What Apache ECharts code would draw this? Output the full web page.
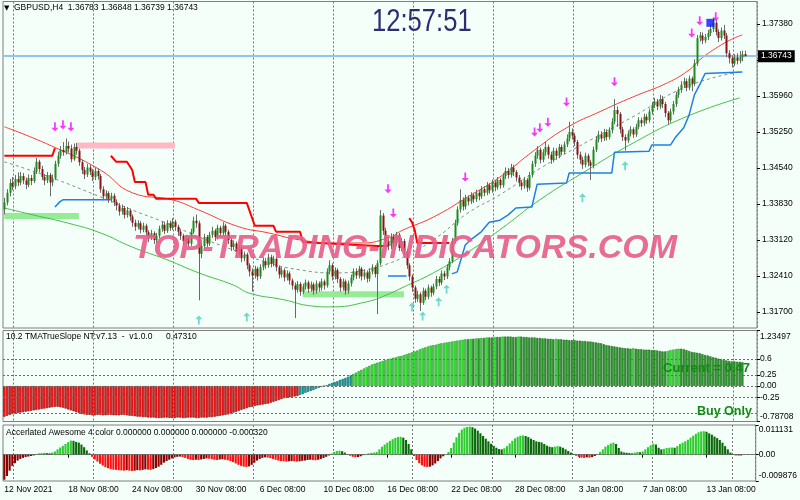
<!DOCTYPE html>
<html><head><meta charset="utf-8">
<script src="https://cdn.jsdelivr.net/npm/echarts@6/dist/echarts.min.js"></script>
<style>html,body{margin:0;padding:0;background:#F5FFFA}#c{width:800px;height:500px}</style>
</head><body><div id="c"></div>
<script>
// ---------------- DATA ----------------
const symbolName = 'GBPUSD,H4';
const clockText = '12:57:51';
const watermarkText = 'TOP-TRADING-INDICATORS.COM';
const slopeTitle = '10.2 TMATrueSlope NT:v7.13  -  v1.0.0';
const slopeTitleValue = '0.47310';
const aoTitle = 'Accerlated Awesome 4 color 0.000000 0.000000 0.000000 -0.000320';
const slopeCurrentText = 'Current = 0.47';
const slopeModeText = 'Buy Only';

const priceTicks = [1.31700, 1.32410, 1.33120, 1.33830, 1.34540, 1.35250, 1.35960, 1.36670, 1.37380];
const bidPrice = 1.36743;
const dateTickIdx = [0, 24, 48, 72, 96, 120, 144, 168, 192, 216, 240, 264];
const dateTickText = ['12 Nov 2021','18 Nov 08:00','24 Nov 08:00','30 Nov 08:00','6 Dec 08:00','10 Dec 08:00','16 Dec 08:00','22 Dec 08:00','28 Dec 08:00','3 Jan 08:00','7 Jan 08:00','13 Jan 08:00'];

// [open, close, low, high]
const candles = [
[1.3372,1.3386,1.3362,1.3395],[1.3386,1.3405,1.3380,1.3412],[1.3405,1.3424,1.3398,1.3432],[1.3424,1.3418,1.3410,1.3436],[1.3418,1.3432,1.3412,1.3440],[1.3432,1.3425,1.3418,1.3445],[1.3425,1.3438,1.3420,1.3446],[1.3438,1.3429,1.3422,1.3444],[1.3429,1.3421,1.3412,1.3435],[1.3421,1.3434,1.3416,1.3441],
[1.3434,1.3428,1.3420,1.3440],[1.3428,1.3447,1.3424,1.3455],[1.3447,1.3466,1.3442,1.3474],[1.3466,1.3452,1.3445,1.3470],[1.3452,1.3436,1.3430,1.3458],[1.3436,1.3429,1.3420,1.3442],[1.3429,1.3440,1.3424,1.3446],[1.3440,1.3425,1.3398,1.3444],[1.3425,1.3433,1.3418,1.3441],[1.3433,1.3462,1.3430,1.3468],
[1.3462,1.3478,1.3456,1.3486],[1.3478,1.3490,1.3472,1.3497],[1.3490,1.3485,1.3478,1.3505],[1.3485,1.3497,1.3480,1.3512],[1.3497,1.3492,1.3484,1.3506],[1.3492,1.3471,1.3465,1.3500],[1.3471,1.3495,1.3468,1.3502],[1.3495,1.3488,1.3480,1.3503],[1.3488,1.3465,1.3458,1.3492],[1.3465,1.3450,1.3442,1.3470],
[1.3450,1.3441,1.3432,1.3456],[1.3441,1.3455,1.3436,1.3462],[1.3455,1.3447,1.3440,1.3460],[1.3447,1.3436,1.3428,1.3452],[1.3436,1.3448,1.3430,1.3455],[1.3448,1.3438,1.3431,1.3453],[1.3438,1.3412,1.3405,1.3442],[1.3412,1.3398,1.3390,1.3418],[1.3398,1.3404,1.3392,1.3410],[1.3404,1.3392,1.3385,1.3408],
[1.3392,1.3399,1.3386,1.3405],[1.3399,1.3387,1.3379,1.3404],[1.3387,1.3380,1.3370,1.3392],[1.3380,1.3368,1.3360,1.3385],[1.3368,1.3375,1.3362,1.3382],[1.3375,1.3361,1.3354,1.3379],[1.3361,1.3370,1.3356,1.3377],[1.3370,1.3358,1.3350,1.3374],[1.3358,1.3346,1.3338,1.3362],[1.3346,1.3338,1.3330,1.3352],
[1.3338,1.3345,1.3333,1.3351],[1.3345,1.3332,1.3325,1.3349],[1.3332,1.3340,1.3327,1.3346],[1.3340,1.3327,1.3320,1.3344],[1.3327,1.3318,1.3308,1.3331],[1.3318,1.3325,1.3312,1.3332],[1.3325,1.3312,1.3304,1.3329],[1.3312,1.3320,1.3306,1.3326],[1.3320,1.3334,1.3315,1.3340],[1.3334,1.3342,1.3328,1.3349],
[1.3342,1.3330,1.3324,1.3348],[1.3330,1.3345,1.3326,1.3351],[1.3345,1.3336,1.3330,1.3350],[1.3336,1.3348,1.3332,1.3355],[1.3348,1.3338,1.3330,1.3352],[1.3338,1.3328,1.3320,1.3342],[1.3328,1.3320,1.3312,1.3333],[1.3320,1.3310,1.3302,1.3324],[1.3310,1.3316,1.3304,1.3322],[1.3316,1.3305,1.3298,1.3320],
[1.3305,1.3328,1.3300,1.3334],[1.3328,1.3350,1.3324,1.3358],[1.3350,1.3345,1.3336,1.3362],[1.3345,1.3285,1.3193,1.3350],[1.3285,1.3300,1.3276,1.3308],[1.3300,1.3318,1.3294,1.3324],[1.3318,1.3305,1.3298,1.3322],[1.3305,1.3322,1.3300,1.3328],[1.3322,1.3330,1.3316,1.3338],[1.3330,1.3318,1.3310,1.3334],
[1.3318,1.3336,1.3313,1.3342],[1.3336,1.3325,1.3318,1.3340],[1.3325,1.3340,1.3320,1.3347],[1.3340,1.3328,1.3321,1.3344],[1.3328,1.3312,1.3304,1.3332],[1.3312,1.3298,1.3290,1.3316],[1.3298,1.3305,1.3292,1.3311],[1.3305,1.3288,1.3280,1.3309],[1.3288,1.3295,1.3282,1.3301],[1.3295,1.3276,1.3268,1.3299],
[1.3276,1.3283,1.3270,1.3289],[1.3283,1.3262,1.3254,1.3287],[1.3262,1.3250,1.3240,1.3266],[1.3250,1.3242,1.3210,1.3256],[1.3242,1.3255,1.3236,1.3261],[1.3255,1.3240,1.3232,1.3259],[1.3240,1.3258,1.3235,1.3264],[1.3258,1.3270,1.3252,1.3277],[1.3270,1.3262,1.3255,1.3276],[1.3262,1.3278,1.3257,1.3285],
[1.3278,1.3265,1.3258,1.3283],[1.3265,1.3275,1.3260,1.3281],[1.3275,1.3258,1.3250,1.3279],[1.3258,1.3244,1.3236,1.3262],[1.3244,1.3252,1.3238,1.3258],[1.3252,1.3238,1.3230,1.3256],[1.3238,1.3246,1.3232,1.3252],[1.3246,1.3232,1.3224,1.3250],[1.3232,1.3222,1.3214,1.3236],[1.3222,1.3214,1.3158,1.3228],
[1.3214,1.3225,1.3208,1.3231],[1.3225,1.3210,1.3202,1.3229],[1.3210,1.3220,1.3205,1.3226],[1.3220,1.3228,1.3214,1.3234],[1.3228,1.3216,1.3208,1.3232],[1.3216,1.3224,1.3210,1.3230],[1.3224,1.3212,1.3204,1.3228],[1.3212,1.3226,1.3206,1.3232],[1.3226,1.3218,1.3210,1.3230],[1.3218,1.3230,1.3212,1.3236],
[1.3230,1.3222,1.3214,1.3234],[1.3222,1.3250,1.3218,1.3256],[1.3250,1.3262,1.3244,1.3272],[1.3262,1.3240,1.3232,1.3266],[1.3240,1.3252,1.3234,1.3258],[1.3252,1.3235,1.3227,1.3256],[1.3235,1.3218,1.3210,1.3239],[1.3218,1.3230,1.3212,1.3236],[1.3230,1.3212,1.3204,1.3234],[1.3212,1.3226,1.3206,1.3232],
[1.3226,1.3238,1.3220,1.3244],[1.3238,1.3250,1.3232,1.3256],[1.3250,1.3242,1.3235,1.3256],[1.3242,1.3255,1.3236,1.3261],[1.3255,1.3240,1.3232,1.3259],[1.3240,1.3248,1.3234,1.3254],[1.3248,1.3236,1.3228,1.3252],[1.3236,1.3250,1.3230,1.3256],[1.3250,1.3258,1.3244,1.3264],[1.3258,1.3245,1.3238,1.3262],
[1.3245,1.3266,1.3166,1.3272],[1.3266,1.3360,1.3262,1.3371],[1.3360,1.3330,1.3322,1.3365],[1.3330,1.3310,1.3302,1.3336],[1.3310,1.3300,1.3292,1.3318],[1.3300,1.3318,1.3294,1.3325],[1.3318,1.3305,1.3298,1.3324],[1.3305,1.3322,1.3300,1.3328],[1.3322,1.3296,1.3290,1.3326],[1.3296,1.3310,1.3290,1.3316],
[1.3310,1.3290,1.3282,1.3314],[1.3290,1.3262,1.3255,1.3294],[1.3262,1.3240,1.3232,1.3266],[1.3240,1.3218,1.3210,1.3244],[1.3218,1.3196,1.3188,1.3222],[1.3196,1.3205,1.3190,1.3212],[1.3205,1.3188,1.3172,1.3209],[1.3188,1.3212,1.3184,1.3218],[1.3212,1.3200,1.3193,1.3216],[1.3200,1.3218,1.3195,1.3224],
[1.3218,1.3208,1.3200,1.3222],[1.3208,1.3220,1.3203,1.3226],[1.3220,1.3235,1.3215,1.3241],[1.3235,1.3228,1.3221,1.3240],[1.3228,1.3246,1.3223,1.3252],[1.3246,1.3240,1.3233,1.3251],[1.3240,1.3258,1.3235,1.3264],[1.3258,1.3270,1.3252,1.3276],[1.3270,1.3310,1.3266,1.3316],[1.3310,1.3345,1.3305,1.3352],
[1.3345,1.3372,1.3340,1.3378],[1.3372,1.3390,1.3366,1.3412],[1.3390,1.3378,1.3370,1.3396],[1.3378,1.3395,1.3372,1.3401],[1.3395,1.3388,1.3380,1.3400],[1.3388,1.3400,1.3383,1.3406],[1.3400,1.3392,1.3385,1.3405],[1.3392,1.3405,1.3387,1.3411],[1.3405,1.3398,1.3390,1.3410],[1.3398,1.3412,1.3393,1.3418],
[1.3412,1.3405,1.3398,1.3418],[1.3405,1.3420,1.3400,1.3426],[1.3420,1.3410,1.3403,1.3424],[1.3410,1.3425,1.3405,1.3431],[1.3425,1.3416,1.3408,1.3430],[1.3416,1.3430,1.3411,1.3436],[1.3430,1.3420,1.3413,1.3434],[1.3420,1.3438,1.3415,1.3444],[1.3438,1.3448,1.3432,1.3455],[1.3448,1.3440,1.3433,1.3454],
[1.3440,1.3455,1.3435,1.3462],[1.3455,1.3446,1.3438,1.3460],[1.3446,1.3435,1.3427,1.3450],[1.3435,1.3425,1.3417,1.3440],[1.3425,1.3418,1.3410,1.3430],[1.3418,1.3430,1.3413,1.3436],[1.3430,1.3415,1.3407,1.3434],[1.3415,1.3440,1.3410,1.3446],[1.3440,1.3462,1.3435,1.3468],[1.3462,1.3478,1.3456,1.3485],
[1.3478,1.3490,1.3472,1.3497],[1.3490,1.3470,1.3463,1.3494],[1.3470,1.3485,1.3465,1.3491],[1.3485,1.3495,1.3478,1.3505],[1.3495,1.3480,1.3472,1.3500],[1.3480,1.3470,1.3462,1.3486],[1.3470,1.3488,1.3465,1.3494],[1.3488,1.3478,1.3470,1.3493],[1.3478,1.3495,1.3473,1.3501],[1.3495,1.3486,1.3479,1.3500],
[1.3486,1.3500,1.3481,1.3506],[1.3500,1.3512,1.3495,1.3520],[1.3512,1.3525,1.3506,1.3545],[1.3525,1.3518,1.3510,1.3532],[1.3518,1.3505,1.3497,1.3523],[1.3505,1.3480,1.3472,1.3509],[1.3480,1.3470,1.3462,1.3486],[1.3470,1.3460,1.3452,1.3476],[1.3460,1.3478,1.3455,1.3484],[1.3478,1.3465,1.3457,1.3482],
[1.3465,1.3458,1.3430,1.3470],[1.3458,1.3490,1.3453,1.3496],[1.3490,1.3510,1.3485,1.3516],[1.3510,1.3520,1.3504,1.3527],[1.3520,1.3512,1.3505,1.3526],[1.3512,1.3525,1.3507,1.3531],[1.3525,1.3515,1.3508,1.3530],[1.3515,1.3528,1.3510,1.3534],[1.3528,1.3545,1.3522,1.3552],[1.3545,1.3568,1.3540,1.3590],
[1.3568,1.3560,1.3535,1.3575],[1.3560,1.3530,1.3522,1.3564],[1.3530,1.3515,1.3507,1.3535],[1.3515,1.3508,1.3488,1.3520],[1.3508,1.3522,1.3503,1.3528],[1.3522,1.3530,1.3516,1.3536],[1.3530,1.3520,1.3513,1.3534],[1.3520,1.3535,1.3515,1.3541],[1.3535,1.3548,1.3530,1.3554],[1.3548,1.3542,1.3535,1.3553],
[1.3542,1.3555,1.3537,1.3561],[1.3555,1.3548,1.3541,1.3560],[1.3548,1.3565,1.3543,1.3571],[1.3565,1.3578,1.3559,1.3584],[1.3578,1.3585,1.3572,1.3592],[1.3585,1.3575,1.3568,1.3590],[1.3575,1.3590,1.3570,1.3598],[1.3590,1.3580,1.3572,1.3596],[1.3580,1.3562,1.3554,1.3584],[1.3562,1.3548,1.3540,1.3566],
[1.3548,1.3565,1.3543,1.3571],[1.3565,1.3580,1.3559,1.3586],[1.3580,1.3598,1.3574,1.3604],[1.3598,1.3608,1.3592,1.3614],[1.3608,1.3618,1.3602,1.3625],[1.3618,1.3625,1.3612,1.3632],[1.3625,1.3612,1.3605,1.3630],[1.3612,1.3630,1.3607,1.3636],[1.3630,1.3620,1.3605,1.3634],[1.3620,1.3660,1.3615,1.3668],
[1.3660,1.3710,1.3655,1.3716],[1.3710,1.3715,1.3703,1.3722],[1.3715,1.3705,1.3698,1.3721],[1.3705,1.3712,1.3700,1.3718],[1.3712,1.3720,1.3706,1.3726],[1.3720,1.3728,1.3714,1.3736],[1.3728,1.3740,1.3722,1.3750],[1.3740,1.3722,1.3715,1.3745],[1.3722,1.3710,1.3702,1.3727],[1.3710,1.3725,1.3705,1.3731],
[1.3725,1.3715,1.3708,1.3736],[1.3715,1.3680,1.3672,1.3720],[1.3680,1.3670,1.3660,1.3686],[1.3670,1.3660,1.3652,1.3676],[1.3660,1.3672,1.3655,1.3678],[1.3672,1.3665,1.3658,1.3680],[1.3665,1.3672,1.3660,1.3684],[1.3672,1.3678,1.3664,1.3685],[1.36783,1.36743,1.36739,1.36848]
];

// TMA bands: [bar index, price]
const upperBand = [[0,1.3535],[17,1.3499],[36,1.3450],[48,1.3405],[63,1.3391],[73,1.3371],[88,1.3338],[99,1.3326],[111,1.3312],[124,1.3306],[134,1.3306],[145,1.3318],[149,1.3330],[161,1.3357],[174,1.3397],[186,1.3436],[199,1.3489],[211,1.3533],[224,1.3566],[236,1.3594],[249,1.3622],[257,1.3647],[261,1.3667],[268,1.3693],[274,1.3710],[277,1.3716]];
const lowerBand = [[0,1.3375],[11,1.3361],[24,1.3345],[36,1.3326],[48,1.3298],[61,1.3273],[73,1.3247],[86,1.3223],[92,1.3207],[105,1.3194],[115,1.3182],[122,1.3180],[136,1.3190],[145,1.3207],[149,1.3217],[161,1.3247],[174,1.3288],[186,1.3332],[201,1.3391],[217,1.3444],[236,1.3503],[256,1.3555],[276,1.3592]];
const midBand = [[0,1.3466],[17,1.3436],[36,1.3397],[48,1.3371],[61,1.3345],[73,1.3318],[86,1.3292],[99,1.3267],[111,1.3253],[124,1.3247],[136,1.3253],[145,1.3267],[149,1.3276],[161,1.3312],[174,1.3365],[186,1.3401],[202,1.3456],[220,1.3509],[236,1.3555],[256,1.3614],[276,1.3643]];

// stop lines (segments of [bar index, price])
const blueStop = [
  [[19,1.3377],[21,1.3388],[22,1.3391],[40,1.3391]],
  [[144,1.3241],[151,1.3241]],
  [[168,1.3245],[170,1.3249],[173,1.3302],[175,1.3312],[179,1.3328],[182,1.3347],[186,1.3351],[189,1.3361],[192,1.3375],[198,1.3377],[200,1.3422],[211,1.3424],[212,1.3444],[228,1.3444],[229,1.3485],[242,1.3487],[243,1.3499],[250,1.3499],[252,1.3515],[255,1.3533],[257,1.3558],[259,1.3598],[261,1.3618],[263,1.3640],[277,1.3643]]
];
const redStop = [
  [[0,1.3478],[18,1.3478],[19,1.3493]],
  [[40,1.3478],[42,1.3466],[46,1.3466],[48,1.3450],[49,1.3426],[53,1.3426],[54,1.3401],[56,1.3401],[57,1.3393],[72,1.3393],[73,1.3385],[91,1.3385],[94,1.3340],[101,1.3340],[102,1.3328],[111,1.3328],[112,1.3308],[118,1.3306],[140,1.3300],[144,1.3300]],
  [[152,1.3355],[153,1.3347],[154,1.3332],[155,1.3306],[167,1.3306]]
];
// supply / demand zones: [startBar, endBar, price]
const pinkZones = [[27, 64, 1.3498]];
const greenZones = [[0, 28, 1.3359], [112, 150, 1.3205]];
// signal arrows [bar index, price]
const downArrows = [[19,1.3535],[22,1.3539],[25,1.3535],[144,1.3413],[146,1.3365],[173,1.3436],[199,1.3525],[201,1.3533],[204,1.3544],[211,1.3584],[229,1.3624],[258,1.3720],[261,1.3744],[267,1.3752]];
const upArrows = [[73,1.3154],[91,1.3160],[153,1.3180],[157,1.3162],[163,1.3190],[166,1.3215],[217,1.3395],[233,1.3458]];
const blueMarks = [[265,1.3740]];

// TMA True Slope histogram
const slope = [
-0.68,-0.66,-0.64,-0.62,-0.61,-0.60,-0.59,-0.58,-0.57,-0.56,
-0.55,-0.54,-0.53,-0.52,-0.51,-0.50,-0.49,-0.48,-0.47,-0.46,
-0.46,-0.47,-0.48,-0.50,-0.52,-0.54,-0.56,-0.58,-0.60,-0.62,
-0.63,-0.64,-0.64,-0.65,-0.65,-0.64,-0.64,-0.65,-0.65,-0.64,
-0.64,-0.65,-0.65,-0.65,-0.64,-0.64,-0.65,-0.66,-0.66,-0.67,
-0.68,-0.68,-0.69,-0.69,-0.70,-0.70,-0.70,-0.71,-0.71,-0.71,
-0.70,-0.70,-0.71,-0.71,-0.71,-0.70,-0.70,-0.71,-0.71,-0.70,
-0.70,-0.70,-0.71,-0.71,-0.70,-0.70,-0.70,-0.69,-0.69,-0.68,
-0.67,-0.66,-0.65,-0.64,-0.63,-0.61,-0.59,-0.57,-0.55,-0.53,
-0.51,-0.49,-0.47,-0.46,-0.44,-0.43,-0.42,-0.41,-0.40,-0.39,
-0.37,-0.35,-0.33,-0.31,-0.29,-0.27,-0.26,-0.25,-0.24,-0.23,
-0.22,-0.20,-0.18,-0.15,-0.13,-0.11,-0.09,-0.06,-0.04,-0.02,
0.00,0.02,0.05,0.07,0.09,0.11,0.14,0.16,0.18,0.21,
0.24,0.27,0.30,0.33,0.36,0.39,0.42,0.45,0.48,0.50,
0.52,0.54,0.56,0.58,0.60,0.61,0.63,0.64,0.66,0.67,
0.69,0.71,0.73,0.75,0.77,0.79,0.82,0.84,0.86,0.88,
0.90,0.91,0.92,0.94,0.95,0.96,0.97,0.98,0.99,1.00,
1.01,1.02,1.03,1.04,1.04,1.05,1.05,1.06,1.06,1.07,
1.07,1.08,1.08,1.08,1.09,1.09,1.09,1.10,1.10,1.10,
1.10,1.09,1.09,1.10,1.10,1.09,1.09,1.08,1.08,1.08,
1.07,1.07,1.06,1.06,1.05,1.05,1.04,1.05,1.04,1.04,
1.03,1.03,1.02,1.02,1.02,1.01,1.01,1.00,1.00,0.99,
0.99,0.98,0.97,0.96,0.95,0.93,0.91,0.90,0.89,0.88,
0.87,0.86,0.85,0.84,0.84,0.83,0.84,0.83,0.82,0.82,
0.81,0.81,0.81,0.80,0.80,0.79,0.78,0.77,0.77,0.78,
0.80,0.81,0.82,0.83,0.83,0.82,0.80,0.78,0.76,0.75,
0.74,0.73,0.71,0.69,0.68,0.66,0.64,0.63,0.61,0.60,
0.58,0.57,0.56,0.55,0.55,0.54,0.54,0.53
];
const slopeMax = 1.23497, slopeMin = -0.78708;
const slopeLevels = [0.6, 0.25, 0, -0.25, -0.6];
const slopeLabelVals = [1.23497, 0.6, 0.25, 0, -0.25, -0.78708];
const slopeLabelText = ['1.23497','0.6','0.25','0.00','-0.25','-0.78708'];

// Accelerated Awesome oscillator
const ao = [
-0.0094,-0.0080,-0.0060,-0.0042,-0.0032,-0.0022,-0.0016,-0.0012,-0.0009,-0.0007,
-0.0005,-0.0003,0.0002,0.0005,0.0006,0.0007,0.0006,0.0005,0.0008,0.0012,
0.0020,0.0027,0.0033,0.0040,0.0047,0.0053,0.0052,0.0048,0.0045,0.0038,
0.0028,0.0016,0.0005,-0.0008,-0.0018,-0.0026,-0.0034,-0.0041,-0.0047,-0.0051,
-0.0054,-0.0056,-0.0057,-0.0058,-0.0059,-0.0060,-0.0058,-0.0060,-0.0061,-0.0060,
-0.0058,-0.0059,-0.0057,-0.0055,-0.0056,-0.0057,-0.0054,-0.0050,-0.0045,-0.0038,
-0.0030,-0.0024,-0.0019,-0.0014,-0.0010,-0.0008,-0.0007,-0.0009,-0.0012,-0.0016,
-0.0019,-0.0020,-0.0019,-0.0020,-0.0018,-0.0016,-0.0014,-0.0015,-0.0017,-0.0019,
-0.0020,-0.0018,-0.0017,-0.0019,-0.0021,-0.0024,-0.0028,-0.0033,-0.0038,-0.0042,
-0.0045,-0.0046,-0.0044,-0.0038,-0.0030,-0.0022,-0.0016,-0.0012,-0.0010,-0.0011,
-0.0013,-0.0016,-0.0019,-0.0022,-0.0024,-0.0025,-0.0026,-0.0025,-0.0024,-0.0025,
-0.0026,-0.0025,-0.0023,-0.0022,-0.0020,-0.0019,-0.0020,-0.0021,-0.0019,-0.0016,
-0.0012,-0.0008,-0.0003,0.0004,0.0010,0.0014,0.0015,0.0013,0.0008,0.0002,
-0.0004,-0.0008,-0.0010,-0.0009,-0.0006,-0.0002,0.0003,0.0005,0.0007,0.0008,
0.0010,0.0020,0.0030,0.0038,0.0045,0.0052,0.0058,0.0063,0.0066,0.0067,
0.0064,0.0055,0.0040,0.0020,-0.0005,-0.0020,-0.0032,-0.0040,-0.0045,-0.0046,
-0.0045,-0.0040,-0.0033,-0.0024,-0.0014,-0.0006,0.0002,0.0010,0.0025,0.0045,
0.0065,0.0082,0.0094,0.0101,0.0104,0.0105,0.0103,0.0098,0.0090,0.0080,
0.0070,0.0060,0.0050,0.0041,0.0033,0.0026,0.0021,0.0020,0.0024,0.0032,
0.0042,0.0052,0.0061,0.0067,0.0071,0.0072,0.0070,0.0066,0.0060,0.0055,
0.0050,0.0048,0.0046,0.0040,0.0034,0.0030,0.0028,0.0030,0.0032,0.0030,
0.0026,0.0020,0.0014,0.0008,0.0002,-0.0004,-0.0008,-0.0011,-0.0012,-0.0010,
-0.0011,-0.0009,-0.0005,0.0002,0.0010,0.0020,0.0030,0.0036,0.0042,0.0045,
0.0040,0.0025,0.0012,0.0008,0.0007,0.0006,0.0007,0.0008,0.0010,0.0009,
0.0012,0.0020,0.0028,0.0035,0.0041,0.0038,0.0026,0.0020,0.0022,0.0025,
0.0026,0.0027,0.0026,0.0032,0.0040,0.0045,0.0050,0.0056,0.0064,0.0071,
0.0078,0.0084,0.0087,0.0088,0.0086,0.0080,0.0075,0.0068,0.0062,0.0055,
0.0045,0.0032,0.0020,0.0008,0.0002,-0.0003,-0.0003,-0.0003
];
const aoMax = 0.011131, aoMin = -0.009876;
const aoLabelVals = [0.011131, 0, -0.009876];
const aoLabelText = ['0.011131', '0.00', '-0.009876'];

// ---------------- CHART ----------------
const N = 283;
const cats = Array.from({length: N}, (_, i) => String(i));
const FONT = 'Liberation Sans';
const BG = '#F5FFFA';
const isDateTick = i => dateTickIdx.indexOf(i) >= 0;
const isGridLine = i => i % 30 === 4;
const lastC = candles[candles.length - 1];
const headerText = symbolName + '  ' + [lastC[0], lastC[3], lastC[2], lastC[1]].map(v => v.toFixed(5)).join(' ');

function xAxisFor(g, showLabels) {
  return {
    type: 'category', gridIndex: g, data: cats, boundaryGap: true,
    axisLine: {show: showLabels, lineStyle: {color: '#808080'}},
    axisTick: {show: showLabels, interval: (i) => isDateTick(i), alignWithLabel: true, length: 3, lineStyle: {color: '#000'}},
    axisLabel: {show: showLabels, interval: (i) => isDateTick(i), align: 'left', color: '#000', fontSize: 8.5, fontFamily: FONT, margin: 4,
      formatter: (v) => { const k = dateTickIdx.indexOf(Number(v)); return k >= 0 ? dateTickText[k] : ''; }},
    splitLine: {show: true, interval: (i) => isGridLine(i), lineStyle: {color: '#777', type: [2, 2], width: 1}}
  };
}
function findIdx(arr, v) { for (let k = 0; k < arr.length; k++) if (Math.abs(arr[k] - v) < 1e-9) return k; return -1; }
function edgeLabels(vals, texts, top, bot) {
  return (v) => {
    const k = findIdx(vals, v); if (k < 0) return '';
    if (Math.abs(v - top) < 1e-9) return '{t|' + texts[k] + '}';
    if (Math.abs(v - bot) < 1e-9) return '{b|' + texts[k] + '}';
    return texts[k];
  };
}
const labStyle = {color: '#000', fontSize: 8.5, fontFamily: FONT};

const candleData = candles.map((d, i) => [i, d[0], d[1], d[2], d[3]]);
const slopeData = slope.map((v, i) => {
  let c, b;
  if (v <= -0.21) { c = '#ff1c1c'; b = '#8a0000'; }
  else if (v < 0.26) { c = '#1f9e9e'; b = '#0d6a6a'; }
  else if (i > 0 && v > slope[i - 1]) { c = '#3cf03c'; b = '#1f8f1f'; }
  else { c = '#2f9e2f'; b = '#1a6a1a'; }
  return {value: v, itemStyle: {color: c, borderColor: b, borderWidth: 0.6}};
});
const aoData = ao.map((v, i) => {
  const up = i === 0 || v >= ao[i - 1];
  let c;
  if (v >= 0) c = up ? '#2ecc2e' : '#0a6a0a';
  else c = up ? '#8b0000' : '#ff1010';
  return {value: v, itemStyle: {color: c}};
});

const series = [];
// candles
series.push({
  type: 'custom', xAxisIndex: 0, yAxisIndex: 0, z: 5, clip: true,
  data: candleData, encode: {x: 0, y: [1, 2, 3, 4]},
  renderItem: function (params, api) {
    const i = api.value(0);
    const pO = api.coord([i, api.value(1)]);
    const yC = api.coord([i, api.value(2)])[1];
    const yL = api.coord([i, api.value(3)])[1];
    const yH = api.coord([i, api.value(4)])[1];
    const xr = Math.round(pO[0]);
    const up = api.value(2) >= api.value(1);
    const top = Math.min(pO[1], yC), h = Math.max(Math.abs(pO[1] - yC), 1);
    return {type: 'group', children: [
      {type: 'line', shape: {x1: xr + 0.5, y1: yH, x2: xr + 0.5, y2: yL}, style: {stroke: '#6a6a6a', lineWidth: 1}},
      {type: 'rect', shape: {x: xr - 0.5, y: top, width: 2, height: h}, style: {fill: up ? '#1d8c1d' : '#8b1212'}}
    ]};
  }
});
// upper band + bid line
series.push({type: 'line', xAxisIndex: 0, yAxisIndex: 0, data: upperBand, smooth: true, showSymbol: false, z: 3, lineStyle: {color: '#ff3b3b', width: 1},
  markLine: {
    silent: true, symbol: 'none', precision: 5, data: [{yAxis: bidPrice}],
    lineStyle: {color: '#8fc6ee', width: 2, type: 'solid'},
    label: {show: true, position: 'end', distance: 1, formatter: bidPrice.toFixed(5), backgroundColor: '#000', color: '#fff',
      fontSize: 8.5, fontFamily: FONT, padding: [2, 3, 1, 3]}
  }
});
series.push({type: 'line', xAxisIndex: 0, yAxisIndex: 0, data: lowerBand, smooth: true, showSymbol: false, z: 3, lineStyle: {color: '#46c046', width: 1}});
series.push({type: 'line', xAxisIndex: 0, yAxisIndex: 0, data: midBand, smooth: true, showSymbol: false, z: 3, lineStyle: {color: '#8a8a8a', width: 1, type: [3, 3]}});
blueStop.forEach(seg => series.push({type: 'line', xAxisIndex: 0, yAxisIndex: 0, data: seg, showSymbol: false, z: 4, lineStyle: {color: '#1e80e6', width: 1.5}}));
redStop.forEach(seg => series.push({type: 'line', xAxisIndex: 0, yAxisIndex: 0, data: seg, showSymbol: false, z: 4, lineStyle: {color: '#ff0000', width: 2}}));
pinkZones.forEach(z => series.push({type: 'line', xAxisIndex: 0, yAxisIndex: 0, data: [[z[0], z[2]], [z[1], z[2]]], showSymbol: false, z: 2, lineStyle: {color: '#ffb8c4', width: 6, cap: 'butt'}}));
greenZones.forEach(z => series.push({type: 'line', xAxisIndex: 0, yAxisIndex: 0, data: [[z[0], z[2]], [z[1], z[2]]], showSymbol: false, z: 2, lineStyle: {color: '#96ec96', width: 6, cap: 'butt'}}));
series.push({type: 'scatter', xAxisIndex: 0, yAxisIndex: 0, data: downArrows, z: 6, symbol: 'path://M3,0L5,0L5,6L8,6L4,10L0,6L3,6Z', symbolSize: [7, 9], itemStyle: {color: '#ff00ff'}});
series.push({type: 'scatter', xAxisIndex: 0, yAxisIndex: 0, data: upArrows, z: 6, symbol: 'path://M4,0L8,4L5,4L5,10L3,10L3,4L0,4Z', symbolSize: [7, 9], itemStyle: {color: '#4ccfba'}});
series.push({type: 'scatter', xAxisIndex: 0, yAxisIndex: 0, data: blueMarks, z: 6, symbol: 'rect', symbolSize: 8, itemStyle: {color: '#0a14ff'}});
// slope histogram
series.push({
  type: 'bar', xAxisIndex: 1, yAxisIndex: 1, data: slopeData, barCategoryGap: '15%', z: 3,
  markLine: {silent: true, symbol: 'none', precision: 5, data: slopeLevels.map(v => ({yAxis: v})), label: {show: false},
    lineStyle: {color: '#6a6a6a', width: 1, type: [2, 2]}}
});
// AO histogram
series.push({
  type: 'bar', xAxisIndex: 2, yAxisIndex: 2, data: aoData, barCategoryGap: '20%', z: 3,
  markLine: {silent: true, symbol: 'none', precision: 6, data: [{yAxis: 0}], label: {show: false},
    lineStyle: {color: '#6a6a6a', width: 1, type: [2, 2]}}
});

const option = {
  backgroundColor: BG,
  animation: false,
  grid: [
    {left: 3, width: 754, top: 1.5, height: 326.5, show: true, borderColor: '#7f7f7f', borderWidth: 1, backgroundColor: 'transparent'},
    {left: 3, width: 754, top: 330.5, height: 91, show: true, borderColor: '#7f7f7f', borderWidth: 1, backgroundColor: 'transparent'},
    {left: 3, width: 754, top: 425, height: 56, show: true, borderColor: '#7f7f7f', borderWidth: 1, backgroundColor: 'transparent'}
  ],
  xAxis: [xAxisFor(0, false), xAxisFor(1, false), xAxisFor(2, true)],
  yAxis: [
    {type: 'value', gridIndex: 0, position: 'right', min: 1.31384, max: 1.37820, splitLine: {show: false}, axisLine: {show: false},
      axisTick: {show: true, customValues: priceTicks, length: 3, lineStyle: {color: '#000'}},
      axisLabel: Object.assign({customValues: priceTicks, margin: 5, formatter: v => v.toFixed(5)}, labStyle)},
    {type: 'value', gridIndex: 1, position: 'right', min: slopeMin, max: slopeMax, splitLine: {show: false}, axisLine: {show: false},
      axisTick: {show: true, customValues: slopeLabelVals, length: 3, lineStyle: {color: '#000'}},
      axisLabel: Object.assign({customValues: slopeLabelVals, margin: 3, formatter: edgeLabels(slopeLabelVals, slopeLabelText, slopeMax, slopeMin),
        rich: {t: Object.assign({padding: [12, 0, 0, 0]}, labStyle), b: Object.assign({padding: [0, 0, 10, 0]}, labStyle)}}, labStyle)},
    {type: 'value', gridIndex: 2, position: 'right', min: aoMin, max: aoMax, splitLine: {show: false}, axisLine: {show: false},
      axisTick: {show: true, customValues: aoLabelVals, length: 3, lineStyle: {color: '#000'}},
      axisLabel: Object.assign({customValues: aoLabelVals, margin: 3, formatter: edgeLabels(aoLabelVals, aoLabelText, aoMax, aoMin),
        rich: {t: Object.assign({padding: [10, 0, 0, 0]}, labStyle), b: Object.assign({padding: [0, 0, 10, 0]}, labStyle)}}, labStyle)}
  ],
  graphic: [
    {type: 'text', x: 133, y: 249, z: 40, style: {text: watermarkText, fill: 'rgba(232,92,138,0.9)', font: 'italic bold 34px "Liberation Sans"', verticalAlign: 'middle'}},
    {type: 'text', x: 4, y: 8, z: 50, style: {text: '\u25BC', fill: '#000', font: '7px "DejaVu Sans"', verticalAlign: 'middle'}},
    {type: 'text', x: 14, y: 8, z: 50, style: {text: headerText, fill: '#000', font: '8.5px "Liberation Sans"', verticalAlign: 'middle'}},
    {type: 'text', x: 372, y: 22, z: 50, scaleX: 0.8, style: {text: clockText, fill: '#2f2c70', font: '32px "Liberation Sans"', verticalAlign: 'middle'}},
    {type: 'text', x: 6, y: 337, z: 50, style: {text: slopeTitle, fill: '#000', font: '8.5px "Liberation Sans"', verticalAlign: 'middle'}},
    {type: 'text', x: 166, y: 337, z: 50, style: {text: slopeTitleValue, fill: '#000', font: '8.5px "Liberation Sans"', verticalAlign: 'middle'}},
    {type: 'text', x: 663, y: 368, z: 50, style: {text: slopeCurrentText, fill: '#138a13', font: 'bold 13px "Liberation Sans"', verticalAlign: 'middle'}},
    {type: 'text', x: 697, y: 412, z: 50, style: {text: slopeModeText, fill: '#138a13', font: 'bold 12.5px "Liberation Sans"', verticalAlign: 'middle'}},
    {type: 'text', x: 6, y: 432.5, z: 50, style: {text: aoTitle, fill: '#000', font: '8.5px "Liberation Sans"', verticalAlign: 'middle'}}
  ],
  series: series
};
const chart = echarts.init(document.getElementById('c'), null, {renderer: 'canvas', width: 800, height: 500});
chart.setOption(option);
</script>
</body></html>
